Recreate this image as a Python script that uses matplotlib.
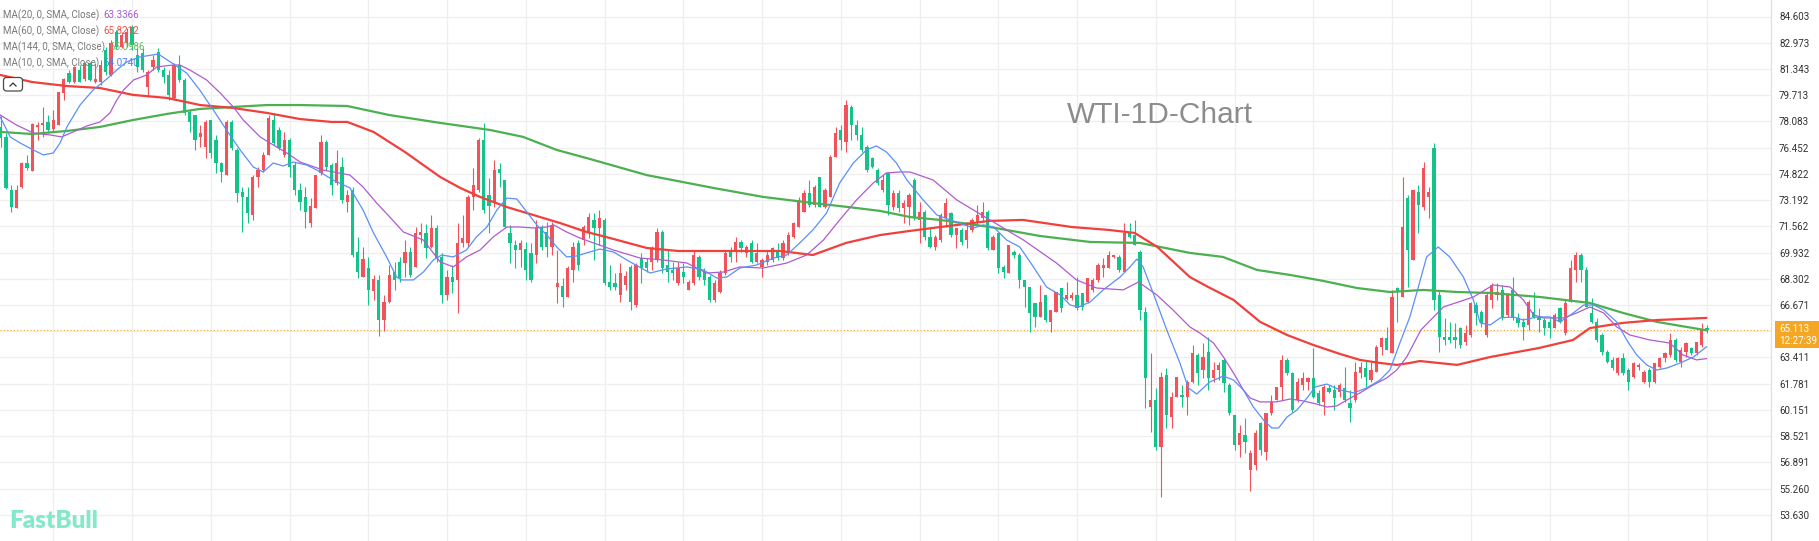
import matplotlib
matplotlib.use("Agg")
import matplotlib.pyplot as plt
from matplotlib.patches import FancyBboxPatch, Rectangle
from matplotlib.lines import Line2D
from matplotlib.transforms import IdentityTransform
import numpy as np

W, H = 1819, 541

# daily candles, first one (index -1) is cut by the left edge
first_index = -1
opens = [77.74,
    77.12, 73.82, 72.70, 74.01, 75.50, 75.00, 77.74, 77.86, 78.05, 77.61,
    77.86, 79.85, 81.09, 80.53, 81.28, 80.72, 81.71, 80.53, 80.53, 82.52,
    80.97, 83.64, 82.71, 82.96, 83.95, 82.21, 82.34, 80.22, 81.47, 82.40,
    81.28, 80.97, 79.54, 81.59, 80.66, 78.67, 78.48, 77.12, 76.49, 78.17,
    76.93, 75.50, 74.75, 78.05, 76.31, 73.70, 73.39, 72.27, 74.63, 75.06,
    76.00, 78.17, 77.55, 76.00, 76.93, 75.37, 73.82, 73.39, 71.77, 72.70,
    74.88, 76.80, 75.37, 74.26, 75.25, 73.08, 73.82, 69.97, 68.41, 68.97,
    67.55, 68.23, 65.74, 66.86, 68.72, 69.34, 69.28, 69.97, 69.03, 71.02,
    71.15, 70.28, 71.46, 69.66, 67.30, 68.41, 68.23, 70.53, 70.53, 73.39,
    73.82, 76.93, 73.51, 73.01, 75.12, 74.44, 71.15, 70.40, 70.09, 70.15,
    69.91, 69.78, 71.46, 71.21, 70.28, 67.79, 67.86, 67.18, 68.85, 70.53,
    70.71, 71.21, 71.96, 71.46, 71.96, 68.10, 68.04, 67.30, 67.92, 69.03,
    66.67, 69.59, 69.34, 69.34, 69.47, 71.21, 69.16, 68.85, 68.04, 68.72,
    67.61, 68.04, 69.66, 68.72, 68.41, 66.99, 67.48, 68.66, 69.97, 70.09,
    70.59, 69.91, 70.53, 69.34, 69.03, 69.34, 69.47, 69.97, 69.59, 69.97,
    70.90, 71.52, 72.45, 73.63, 72.89, 74.63, 72.77, 73.39, 75.87, 77.55,
    76.80, 78.98, 77.86, 77.24, 76.49, 75.81, 75.06, 73.82, 74.88, 72.77,
    73.63, 72.70, 72.77, 74.44, 71.96, 72.45, 70.90, 70.28, 70.71, 72.08,
    72.39, 71.02, 71.34, 70.71, 71.34, 71.77, 72.08, 72.45, 70.09, 71.15,
    69.03, 68.66, 69.97, 69.78, 68.23, 67.79, 66.80, 65.93, 67.30, 65.62,
    66.24, 67.73, 67.05, 67.11, 67.30, 67.42, 66.86, 67.61, 68.23, 68.97,
    68.97, 69.66, 69.66, 68.72, 71.15, 71.02, 69.97, 66.24, 60.33, 60.77,
    57.85, 62.32, 59.71, 60.96, 61.08, 60.96, 61.89, 63.57, 62.63, 63.75,
    62.14, 62.63, 63.26, 61.70, 59.84, 57.97, 58.60, 56.42, 56.73, 59.34,
    57.54, 59.96, 60.77, 61.58, 63.26, 62.45, 60.77, 61.70, 61.89, 62.14,
    61.21, 60.65, 61.51, 61.39, 61.27, 61.51, 60.58, 60.77, 62.45, 62.76,
    62.01, 62.51, 64.06, 64.62, 63.69, 67.73, 67.17, 73.32, 69.47, 73.70,
    72.77, 73.39, 76.43, 67.30, 64.68, 64.68, 64.68, 65.24, 64.37, 64.81,
    66.67, 66.24, 64.81, 66.99, 67.30, 67.61, 66.05, 67.61, 65.86, 65.62,
    65.43, 66.24, 65.93, 65.74, 65.62, 65.24, 66.49, 64.93, 66.86, 68.85,
    69.78, 68.85, 66.18, 65.62, 64.81, 63.75, 63.26, 62.45, 63.38, 62.63,
    62.20, 62.82, 61.89, 62.63, 61.89, 62.82, 63.38, 63.57, 64.50, 63.13,
    63.75, 64.00, 63.69, 64.19, 65.24]
highs = [78.42,
    77.36, 74.13, 74.13, 75.56, 76.00, 77.99, 78.05, 78.98, 78.48, 78.79,
    79.91, 80.78, 81.28, 81.53, 81.59, 81.78, 81.78, 81.71, 81.90, 82.71,
    83.14, 83.77, 83.64, 83.89, 84.08, 82.65, 82.65, 81.28, 82.21, 82.65,
    81.47, 81.28, 81.71, 82.21, 80.78, 78.79, 78.48, 77.86, 78.17, 78.17,
    77.24, 75.56, 78.17, 78.17, 76.43, 74.01, 74.01, 74.75, 75.25, 76.18,
    78.48, 78.61, 77.74, 77.43, 77.05, 75.56, 74.26, 74.01, 73.32, 74.75,
    77.24, 76.93, 75.50, 76.31, 75.87, 73.82, 74.01, 70.90, 70.28, 69.66,
    68.54, 68.54, 67.30, 69.16, 69.34, 69.66, 70.71, 70.28, 71.52, 71.77,
    71.71, 72.27, 71.65, 69.91, 68.85, 69.16, 71.77, 72.27, 73.51, 75.19,
    77.05, 77.99, 74.57, 75.69, 75.50, 74.44, 71.65, 70.71, 70.71, 70.59,
    70.53, 71.96, 71.65, 71.83, 71.83, 70.09, 68.35, 69.09, 70.59, 70.71,
    71.65, 72.39, 72.39, 72.58, 72.08, 69.16, 68.66, 69.28, 68.79, 69.16,
    69.28, 69.91, 69.59, 70.34, 71.46, 71.34, 70.09, 69.34, 69.34, 69.28,
    68.23, 70.09, 69.78, 68.97, 68.54, 68.23, 68.85, 70.09, 70.28, 70.90,
    70.71, 70.40, 70.71, 70.53, 69.59, 70.09, 70.28, 70.53, 70.71, 71.21,
    71.83, 73.39, 73.82, 74.44, 74.13, 74.63, 73.95, 76.00, 77.74, 77.86,
    79.41, 79.10, 78.17, 77.74, 76.62, 75.87, 75.19, 74.75, 74.88, 73.82,
    73.82, 73.20, 73.63, 74.57, 73.08, 72.58, 71.52, 71.02, 72.39, 73.32,
    72.45, 71.46, 71.46, 71.83, 72.08, 72.89, 73.08, 72.58, 71.02, 71.15,
    69.16, 70.40, 70.09, 69.91, 68.23, 67.79, 66.80, 67.92, 67.30, 66.36,
    67.48, 67.73, 68.10, 67.48, 68.41, 67.42, 68.35, 68.35, 69.28, 69.59,
    70.03, 69.78, 69.78, 71.77, 71.77, 71.96, 70.09, 66.55, 63.69, 61.51,
    62.51, 62.76, 61.27, 62.20, 61.70, 62.01, 64.19, 63.69, 64.32, 64.68,
    63.13, 63.13, 63.38, 61.83, 59.84, 59.22, 59.65, 57.66, 58.91, 59.40,
    59.96, 61.08, 61.58, 63.57, 63.38, 62.51, 62.14, 62.51, 62.20, 64.00,
    61.39, 61.70, 61.70, 61.70, 61.83, 62.82, 61.39, 63.13, 63.13, 63.26,
    63.13, 64.19, 64.68, 65.30, 67.61, 67.79, 74.63, 73.51, 73.82, 74.13,
    75.56, 74.01, 76.74, 67.61, 65.86, 65.62, 65.56, 65.30, 65.43, 66.86,
    66.86, 66.36, 67.48, 68.04, 68.04, 67.92, 67.42, 68.41, 66.18, 65.86,
    66.99, 67.48, 66.49, 65.86, 65.86, 66.18, 66.55, 66.99, 69.47, 69.97,
    69.91, 69.03, 67.11, 65.86, 64.93, 63.88, 63.44, 63.44, 63.69, 62.76,
    63.13, 63.07, 62.63, 62.76, 63.07, 63.44, 63.75, 64.93, 64.62, 64.06,
    64.37, 64.06, 64.37, 65.56, 65.43]
lows = [76.49,
    73.88, 72.45, 72.70, 73.95, 75.06, 75.00, 76.93, 77.12, 77.36, 77.43,
    77.86, 79.41, 80.47, 80.47, 80.53, 80.60, 80.60, 80.47, 80.35, 80.97,
    80.91, 82.58, 82.65, 82.71, 82.52, 81.15, 81.15, 79.60, 81.28, 81.15,
    80.47, 79.41, 79.41, 80.53, 78.48, 77.43, 76.31, 76.49, 75.81, 75.81,
    74.88, 74.32, 74.75, 76.31, 73.08, 71.21, 71.77, 71.96, 74.01, 74.94,
    76.00, 76.62, 76.31, 75.87, 74.63, 73.51, 72.58, 71.46, 71.52, 72.70,
    74.75, 75.06, 73.51, 74.13, 73.01, 72.45, 69.66, 68.35, 68.41, 66.67,
    66.99, 64.75, 65.06, 66.80, 67.61, 68.10, 68.41, 68.41, 69.03, 70.53,
    69.59, 70.22, 69.34, 66.80, 66.99, 67.42, 66.18, 70.28, 70.28, 72.58,
    73.70, 72.39, 71.15, 72.77, 74.01, 71.46, 69.28, 68.97, 69.03, 68.23,
    68.10, 69.28, 70.09, 69.66, 69.78, 66.80, 66.55, 67.18, 68.10, 68.85,
    70.40, 70.84, 69.47, 70.40, 67.92, 67.61, 67.61, 66.86, 67.61, 66.36,
    66.55, 68.04, 68.72, 68.85, 69.34, 68.66, 68.10, 68.23, 67.92, 68.04,
    67.61, 67.92, 68.23, 67.92, 66.86, 66.86, 67.42, 68.54, 69.34, 69.34,
    69.97, 69.66, 69.28, 69.28, 68.41, 69.16, 69.34, 69.47, 69.47, 69.78,
    70.84, 71.52, 72.45, 72.77, 72.77, 72.77, 72.70, 73.39, 75.87, 76.31,
    76.18, 76.93, 76.93, 76.18, 74.94, 75.19, 74.13, 73.70, 72.27, 72.58,
    72.45, 71.77, 71.65, 71.96, 70.53, 70.71, 70.22, 70.09, 70.59, 71.52,
    70.90, 70.22, 70.40, 70.22, 71.21, 71.65, 71.83, 70.09, 70.09, 68.66,
    68.35, 68.66, 69.59, 67.73, 66.55, 64.99, 65.30, 65.93, 65.62, 64.99,
    66.24, 66.24, 66.99, 66.99, 66.36, 66.36, 66.80, 67.48, 68.10, 68.41,
    68.97, 69.59, 68.72, 68.72, 70.84, 70.40, 65.74, 60.27, 58.78, 57.66,
    54.74, 59.04, 59.04, 60.96, 60.33, 59.84, 61.83, 61.70, 62.14, 61.39,
    61.89, 62.01, 61.27, 59.84, 57.66, 57.23, 57.48, 55.12, 56.42, 57.35,
    57.04, 59.84, 60.77, 60.77, 62.32, 60.02, 60.65, 61.39, 61.39, 60.89,
    60.46, 59.84, 61.21, 60.15, 60.96, 60.65, 59.40, 60.65, 62.14, 61.58,
    61.89, 62.51, 63.57, 63.88, 63.69, 65.62, 67.17, 67.79, 69.47, 71.15,
    72.58, 72.08, 66.36, 63.75, 64.19, 64.32, 64.00, 64.00, 64.19, 64.68,
    65.43, 65.30, 64.68, 66.49, 66.99, 65.74, 65.93, 65.74, 65.30, 64.50,
    65.12, 65.86, 65.00, 64.81, 64.62, 65.24, 65.56, 64.81, 66.86, 68.10,
    68.10, 66.55, 65.56, 64.37, 63.57, 63.07, 62.63, 62.32, 62.32, 61.39,
    62.14, 62.63, 61.83, 61.58, 61.83, 62.76, 63.13, 63.44, 63.13, 62.82,
    63.44, 63.57, 63.57, 64.06, 64.93]
closes = [77.05,
    73.95, 72.76, 73.82, 75.50, 75.19, 77.92, 77.86, 77.99, 77.55, 78.17,
    79.91, 80.72, 80.53, 81.47, 80.53, 81.71, 80.66, 80.72, 81.59, 81.15,
    82.96, 82.71, 83.45, 83.64, 82.83, 81.47, 81.28, 81.15, 81.90, 81.28,
    80.84, 79.73, 81.59, 80.66, 78.61, 78.05, 76.93, 77.36, 78.05, 76.12,
    75.50, 74.94, 78.05, 76.43, 73.63, 73.39, 72.39, 74.63, 75.06, 76.00,
    78.30, 76.74, 76.43, 76.93, 75.25, 73.82, 73.08, 72.45, 72.83, 74.75,
    76.80, 75.25, 74.13, 75.50, 73.20, 73.51, 69.78, 68.72, 69.53, 67.61,
    68.29, 65.74, 66.86, 68.54, 68.23, 68.35, 69.97, 68.54, 71.15, 71.21,
    70.22, 71.46, 69.59, 67.30, 68.41, 68.10, 70.53, 70.84, 73.39, 74.13,
    76.93, 72.58, 72.80, 75.06, 74.88, 71.52, 70.53, 70.09, 70.53, 68.85,
    68.23, 71.46, 70.28, 70.28, 71.65, 68.04, 67.18, 68.97, 70.28, 69.16,
    71.52, 72.14, 71.46, 72.08, 68.04, 67.79, 67.79, 68.66, 68.48, 66.86,
    69.16, 68.97, 68.97, 70.22, 71.21, 68.97, 68.72, 68.66, 68.97, 68.41,
    68.10, 69.78, 68.41, 68.23, 66.99, 68.04, 68.66, 69.91, 69.66, 70.59,
    70.22, 70.28, 69.34, 69.91, 69.47, 69.78, 70.22, 69.59, 70.53, 71.02,
    71.77, 73.20, 73.63, 72.89, 74.01, 72.77, 73.82, 75.87, 77.36, 76.93,
    79.10, 77.86, 77.24, 76.31, 75.06, 75.25, 74.26, 74.44, 72.89, 73.63,
    72.70, 73.01, 73.51, 72.08, 72.45, 70.90, 70.28, 70.90, 72.27, 73.01,
    71.02, 71.46, 70.59, 71.34, 71.96, 72.27, 72.45, 70.22, 70.90, 68.97,
    68.72, 70.40, 69.78, 68.23, 67.79, 66.18, 65.93, 66.86, 65.74, 66.36,
    67.48, 66.49, 67.30, 67.30, 66.49, 66.55, 68.35, 68.23, 69.16, 69.16,
    69.78, 69.78, 68.85, 71.15, 70.90, 70.40, 66.36, 62.14, 60.77, 57.85,
    62.20, 59.84, 60.96, 62.20, 60.96, 61.89, 63.69, 62.45, 63.44, 62.14,
    62.63, 62.95, 61.83, 59.96, 57.97, 58.72, 58.16, 57.48, 58.72, 57.66,
    59.96, 60.65, 61.58, 63.26, 62.45, 60.15, 61.89, 62.14, 62.14, 60.96,
    60.58, 61.58, 61.27, 60.89, 61.70, 60.77, 60.27, 62.51, 62.82, 62.20,
    62.63, 64.06, 64.62, 63.88, 67.17, 67.48, 71.52, 70.09, 73.82, 72.89,
    75.19, 73.70, 66.99, 64.68, 64.50, 64.50, 64.50, 64.19, 64.93, 66.80,
    66.18, 65.56, 67.30, 67.92, 67.48, 65.93, 67.30, 65.86, 65.56, 65.30,
    66.86, 65.93, 65.74, 65.24, 65.24, 66.05, 65.62, 66.80, 68.97, 69.78,
    68.85, 66.55, 65.62, 64.50, 63.75, 63.13, 62.76, 63.38, 62.45, 61.89,
    63.07, 62.95, 62.51, 61.89, 63.07, 63.38, 63.69, 64.50, 63.26, 63.88,
    64.32, 63.69, 64.37, 65.12, 65.11]

# moving averages (candle index, price)
ma10_idx = [-1.1, 0.8, 2.7, 5.2, 7.1, 9, 10.3, 11.6, 14.1, 16.6,
    19.2, 21.1, 23, 25.5, 29, 31.9, 34.4, 36.9, 39.5, 42,
    44.6, 47.1, 49, 50.9, 52.8, 54.7, 57.3, 59.2, 62.3, 65.5,
    68, 70, 72.5, 74.4, 75.4, 77.6, 79.5, 81.4, 83, 85.2,
    87.7, 89.6, 91.6, 93.5, 95.4, 97.3, 99.2, 101.1, 103, 104.9,
    106.8, 108.7, 110.6, 113.1, 115.7, 118.9, 122.7, 125.8, 129.7, 132.8,
    135.4, 137.3, 139.8, 143, 146.2, 148.7, 151.2, 153.7, 156.3, 158.8,
    161.4, 163.9, 165.8, 167.7, 169.6, 171.6, 174.7, 177.3, 179.8, 184.3,
    186.2, 188.1, 190.6, 193.1, 195.7, 198.2, 200.8, 202.7, 204.3, 206.5,
    209, 212.2, 214.1, 215.4, 216.6, 218.5, 221.1, 223.6, 225.2, 226.8,
    229.3, 231.9, 233.8, 235.7, 237.6, 239.5, 241.1, 242.4, 244, 245.9,
    247.8, 249.4, 251.6, 254.1, 256.7, 259.2, 261.7, 263.6, 265.5, 267.4,
    268.7, 270.6, 272.8, 275, 277.6, 279.5, 280.8, 282.7, 284.6, 287.1,
    289, 291.6, 294.1, 296, 298, 300.5, 302.4, 304.3, 306.8, 308.7,
    310.6, 312.5, 314.4, 316.4, 318.9, 321.4, 323.9]
ma10_val = [78.36, 77.12, 76.74, 76.31, 76.00, 76.12, 76.74, 77.74, 79.10, 80.04,
    80.72, 81.28, 81.78, 82.09, 82.27, 81.65, 81.09, 80.04, 78.79, 77.55,
    76.31, 75.25, 74.94, 75.50, 75.31, 75.56, 75.37, 75.06, 74.44, 73.95,
    72.58, 71.15, 69.66, 68.41, 68.23, 68.23, 68.72, 69.47, 69.78, 69.66,
    70.09, 70.90, 71.52, 72.58, 73.32, 73.26, 72.45, 71.65, 71.02, 70.28,
    69.66, 69.72, 69.91, 70.15, 69.97, 69.35, 68.66, 68.91, 69.04, 68.85,
    68.35, 68.41, 68.97, 69.16, 69.59, 69.78, 70.53, 71.34, 72.39, 74.26,
    75.50, 76.31, 76.56, 76.18, 75.50, 74.44, 73.20, 72.27, 71.96, 71.46,
    71.65, 71.52, 70.71, 70.28, 69.04, 67.79, 67.30, 66.67, 66.55, 66.86,
    67.61, 68.41, 69.04, 69.53, 69.04, 67.42, 65.12, 63.07, 61.52, 61.14,
    61.89, 62.26, 62.01, 61.39, 60.33, 59.53, 59.03, 59.03, 59.71, 60.15,
    60.89, 61.58, 61.76, 61.39, 61.21, 61.52, 62.01, 62.63, 64.31, 65.93,
    67.42, 69.66, 70.28, 69.66, 68.41, 66.99, 65.56, 65.43, 65.87, 65.93,
    65.74, 65.93, 65.93, 65.62, 66.05, 66.67, 66.67, 66.36, 65.62, 64.50,
    63.57, 62.95, 62.63, 62.76, 63.07, 63.44, 64.07]

ma20_idx = [-1.1, 2.0, 5.2, 8.4, 10.6, 12.8, 15.4, 17.9, 19.8, 21.1,
    22.4, 24.3, 26.8, 28.7, 31.9, 33.1, 35, 38.2, 40.8, 43.3,
    45.2, 48.4, 50.9, 53.5, 56, 60.4, 65.5, 68, 70.6, 73.1,
    75.7, 79.5, 82.7, 85.2, 87.7, 90.3, 92.8, 95.4, 97.9, 100.4,
    103, 104.3, 106.8, 109.3, 111.9, 115.7, 120.8, 125.2, 129.7, 133.4,
    136.6, 139.8, 144.2, 148.7, 152.5, 155.7, 158.8, 162, 165.2, 167.7,
    170.3, 172.2, 176.6, 181.1, 187.4, 193.8, 200.1, 203.9, 207.7, 212.8,
    215.7, 219.2, 222.3, 225.5, 227.4, 230, 231.9, 233.8, 235.7, 237,
    238.9, 242, 244.6, 247.1, 249.6, 251.6, 253.5, 255.4, 257.9, 260.4,
    263, 264.9, 266.8, 269.5, 273.8, 279.5, 283.3, 286.5, 289, 291,
    292.9, 296.7, 299.2, 301.7, 304.3, 306.8, 309.3, 313.1, 316.9, 319.4,
    322, 323.9]
ma20_val = [78.48, 77.86, 77.36, 77.24, 77.12, 77.43, 77.80, 78.05, 78.61, 79.41,
    80.04, 80.66, 80.97, 81.47, 81.59, 81.59, 81.28, 80.66, 79.85, 78.98,
    78.17, 77.12, 76.62, 76.12, 75.56, 75.06, 74.75, 74.01, 73.01, 72.14,
    71.21, 70.71, 69.35, 69.04, 69.66, 70.09, 70.90, 71.52, 71.52, 71.46,
    71.52, 71.65, 71.21, 70.84, 70.53, 70.09, 69.59, 69.47, 69.28, 68.66,
    68.72, 69.04, 68.97, 69.28, 69.78, 70.71, 71.96, 73.20, 74.26, 74.88,
    74.94, 74.94, 74.44, 73.20, 71.96, 70.71, 69.28, 68.23, 67.73, 67.61,
    68.10, 67.30, 66.36, 65.31, 64.93, 64.31, 63.44, 62.45, 61.39, 60.89,
    60.65, 60.65, 60.83, 60.71, 60.52, 60.33, 60.40, 60.77, 61.21, 61.70,
    62.14, 62.63, 63.44, 65.12, 66.55, 67.17, 67.92, 67.79, 66.99, 66.05,
    65.87, 65.87, 66.18, 66.55, 66.18, 65.31, 64.81, 64.50, 64.31, 63.57,
    63.26, 63.34]

ma60_idx = [-1.1, 5, 11.6, 17.9, 24.2, 30.7, 37, 43.2, 49.7, 56,
    62, 65, 70, 76, 82.7, 86.5, 90.3, 95.4, 100.4, 105.5,
    110.6, 115, 122, 128, 135, 141, 147.4, 153.7, 160, 166.5,
    172, 178, 187.4, 193.7, 203, 210, 215, 219.3, 225.5, 229,
    233.8, 238.9, 244, 249, 254.1, 257.9, 261.7, 264.9, 267.4, 269.3,
    276.4, 282.7, 292, 298.5, 301.7, 308, 314.5, 323.9]
ma60_val = [80.97, 80.53, 80.28, 80.16, 79.73, 79.54, 79.10, 78.92, 78.61, 78.23,
    78.05, 78.05, 77.43, 76.18, 74.63, 73.95, 73.39, 72.76, 72.27, 71.77,
    71.21, 70.84, 70.22, 70.03, 70.03, 70.03, 70.03, 69.78, 70.53, 71.02,
    71.27, 71.52, 71.90, 71.96, 71.52, 71.34, 71.15, 70.28, 68.41, 67.79,
    66.99, 65.62, 64.81, 64.19, 63.63, 63.26, 63.07, 62.95, 63.07, 63.19,
    62.95, 63.44, 64.00, 64.50, 65.24, 65.56, 65.74, 65.87]

ma144_idx = [-1.1, 5, 11.6, 17.9, 24.2, 30.7, 37, 43.2, 49.7, 56,
    65, 73, 82.7, 92.2, 98.5, 104.9, 111.2, 122, 134.7, 144.2,
    153.7, 160.2, 166.5, 172.2, 177.9, 187.4, 197, 206.5, 216, 225.5,
    231.8, 238.3, 244.6, 250.9, 257.3, 263.6, 269.9, 276.4, 282.7, 292.2,
    301.7, 308, 314.5, 323.9]
ma144_val = [77.43, 77.30, 77.49, 77.74, 78.17, 78.55, 78.86, 78.98, 79.10, 79.10,
    79.04, 78.48, 77.99, 77.55, 77.12, 76.31, 75.75, 74.75, 73.95, 73.39,
    73.01, 72.77, 72.52, 72.14, 71.96, 71.52, 70.96, 70.59, 70.53, 69.91,
    69.66, 68.85, 68.54, 68.17, 67.73, 67.48, 67.61, 67.48, 67.42, 67.17,
    66.80, 66.18, 65.62, 65.10]

ma_labels = ["MA(20, 0, SMA, Close)", "MA(60, 0, SMA, Close)",
             "MA(144, 0, SMA, Close)", "MA(10, 0, SMA, Close)"]
ma_last = ["63.3366", "65.8212", "65.0986", "64.0740"]

y_ticks = [84.603, 82.973, 81.343, 79.713, 78.083, 76.452, 74.822, 73.192,
           71.562, 69.932, 68.302, 66.671, 65.041, 63.411, 61.781, 60.151,
           58.521, 56.891, 55.260, 53.630]
last_price = 65.113
last_time = "12:27:39"

UP = "#f2525a"
DOWN = "#13c48a"

fig = plt.figure(figsize=(W / 100, H / 100), dpi=100)
ax = fig.add_axes([0, 0, 1771 / W, 1])

x = np.arange(first_index, first_index + len(opens))
o = np.array(opens)
c = np.array(closes)
colors = [UP if cc >= oo else DOWN for oo, cc in zip(o, c)]
body_lo = np.minimum(o, c)
body_h = np.maximum(np.abs(c - o), 0.06)

ax.vlines(x, lows, highs, colors=colors, linewidth=0.8, zorder=2)
ax.bar(x, body_h, bottom=body_lo, width=0.64, color=colors, linewidth=0, zorder=3)

ax.plot(ma144_idx, ma144_val, color="#4caf50", lw=1.6, zorder=4, solid_capstyle="round")
ax.plot(ma60_idx, ma60_val, color="#f0403c", lw=1.6, zorder=4, solid_capstyle="round")
ax.plot(ma20_idx, ma20_val, color="#b05ad0", lw=0.9, zorder=5)
ax.plot(ma10_idx, ma10_val, color="#5b8ff9", lw=0.9, zorder=5)

ax.axhline(last_price, color="#f5a623", lw=0.8, ls=(0, (1, 2)), zorder=1)

ax.set_xlim(-6 / 5.25, (1771 - 6) / 5.25)
ax.set_ylim(84.603 - (541 - 16.5) / 16.09, 84.603 + 16.5 / 16.09)

# grid: one vertical line every 15 candles, horizontal at price ticks
ax.set_xticks([9 + 15 * k for k in range(22)])
ax.set_yticks(y_ticks)
# the tick under the last-price tag is hidden by it
ax.set_yticklabels(["" if abs(v - last_price) < 0.5 else f"{v:.3f}" for v in y_ticks])
ax.grid(True, color="#efefef", linewidth=0.9)
ax.set_axisbelow(True)
ax.yaxis.tick_right()
ax.tick_params(axis="x", length=0, labelbottom=False)
ax.tick_params(axis="y", length=0, pad=5.8, labelsize=7.1, labelcolor="#333333")
for lab in ax.get_yticklabels():
    lab.set_fontfamily("Roboto")
for side in ["top", "left", "bottom"]:
    ax.spines[side].set_visible(False)
ax.spines["right"].set_color("#e2e2e2")
ax.spines["right"].set_linewidth(1)

px = IdentityTransform()

# watermark and logo
fig.text(1067, H - 123, "WTI-1D-Chart", transform=px, fontsize=21.5,
         color="#8c8c8c", family="Liberation Sans", va="baseline", ha="left")
fig.text(9, H - 528, "FastBull", transform=px, fontsize=17.5, color="#84e9cb",
         family="Lato", weight="heavy", va="baseline", ha="left")

# MA legend
leg_colors = ["#a55ccf", "#f0504a", "#62bb5e", "#4d7ff5"]
for k, (lab, val, col) in enumerate(zip(ma_labels, ma_last, leg_colors)):
    t = fig.text(3, H - (15.5 + 16 * k), lab, transform=px, fontsize=7,
                 color="#7a7a7a", family="Roboto", va="center", ha="left")
    ax.annotate(val, xy=(1, 0.5), xycoords=t, xytext=(4, 0),
                textcoords="offset pixels", va="center", ha="left",
                fontsize=7, color=col, family="Roboto")

# collapse button
fig.add_artist(FancyBboxPatch((3.5, H - 91), 19, 13.5,
                              boxstyle="round,pad=0,rounding_size=3",
                              transform=px, facecolor="white",
                              edgecolor="#4a4a4a", linewidth=0.9))
fig.add_artist(Line2D([10, 13, 16], [H - 86, H - 83, H - 86], transform=px,
                      color="#333333", linewidth=0.9))

# last price tag
fig.add_artist(Rectangle((1775, H - 348), 46, 27, transform=px,
                         facecolor="#f5a623", edgecolor="none", zorder=10))
fig.text(1779, H - 329, f"{last_price:.3f}", transform=px, fontsize=7.1,
         color="white", family="Roboto", va="center", ha="left", zorder=11)
fig.text(1779, H - 340.5, last_time, transform=px, fontsize=7.1,
         color="white", family="Roboto", va="center", ha="left", zorder=11)

fig.savefig("out.png", dpi=100)
